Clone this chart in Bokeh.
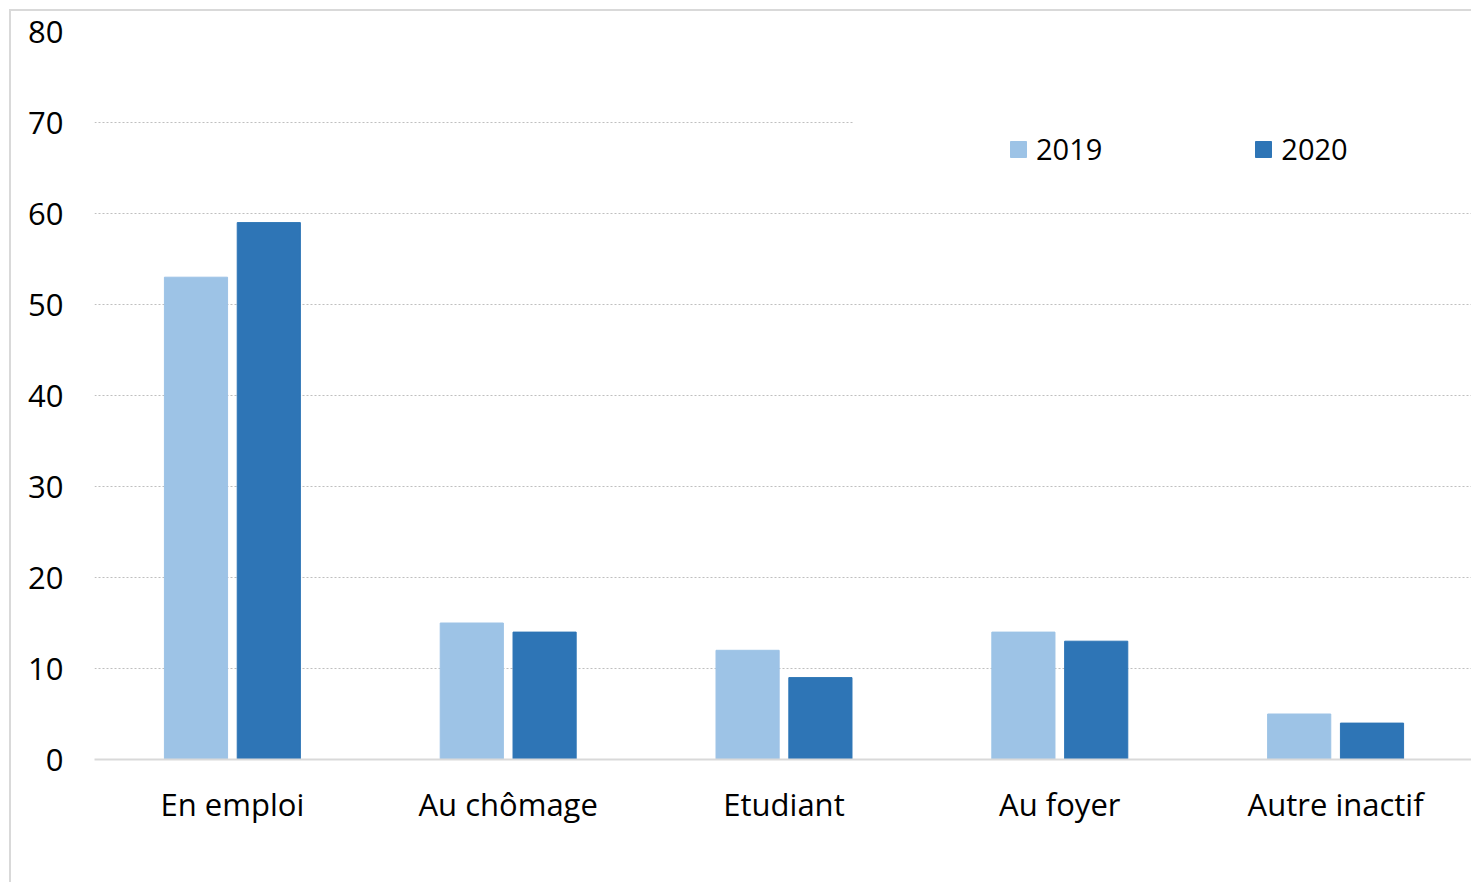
from bokeh.plotting import figure
from bokeh.models import FactorRange, Range1d, FixedTicker, Legend, LegendItem, BoxAnnotation, ColumnDataSource
from bokeh.transform import dodge
from bokeh.embed import file_html
from bokeh.resources import INLINE

categories = ["En emploi", "Au chômage", "Etudiant", "Au foyer", "Autre inactif"]
values_2019 = [53, 15, 12, 14, 5]
values_2020 = [59, 14, 9, 13, 4]
series_names = ["2019", "2020"]
y_ticks = [0, 10, 20, 30, 40, 50, 60, 70, 80]

FONT = "Open Sans"
C2019 = "#9dc3e6"
C2020 = "#2e75b6"

src = ColumnDataSource(dict(cat=categories, v2019=values_2019, v2020=values_2020))

p = figure(
    x_range=FactorRange(*categories), y_range=Range1d(0, 80),
    width=1462, height=873,
    min_border_left=83, min_border_right=0, min_border_top=20, min_border_bottom=125,
    output_backend="svg", toolbar_location=None,
)
p.styles = {"border-left": "2px solid #d9d9d9", "border-top": "2px solid #d9d9d9",
            "margin-left": "9px", "margin-top": "9px"}
p.outline_line_color = None
p.background_fill_color = "white"
p.border_fill_color = "white"

r1 = p.vbar(x=dodge("cat", -0.132, range=p.x_range), top="v2019", width=0.229,
            source=src, fill_color=C2019, line_color=C2019)
r2 = p.vbar(x=dodge("cat", 0.132, range=p.x_range), top="v2020", width=0.229,
            source=src, fill_color=C2020, line_color=C2020)

# grid
p.xgrid.grid_line_color = None
p.ygrid.ticker = FixedTicker(ticks=y_ticks)
p.ygrid.grid_line_color = "#bfbfbf"
p.ygrid.grid_line_dash = "2 2"
p.ygrid.grid_line_width = 1

# y axis
p.yaxis.ticker = FixedTicker(ticks=y_ticks)
p.yaxis.axis_line_color = None
p.yaxis.major_tick_line_color = None
p.yaxis.minor_tick_line_color = None
p.yaxis.major_label_standoff = 25
p.yaxis.major_label_text_font = FONT
p.yaxis.major_label_text_font_size = "31px"
p.yaxis.major_label_text_color = "#000000"

# x axis
p.xaxis.axis_line_color = "#d9d9d9"
p.xaxis.axis_line_width = 2
p.xaxis.major_tick_line_color = None
p.xaxis.minor_tick_line_color = None
p.xaxis.major_label_standoff = 17
p.xaxis.major_label_text_font = FONT
p.xaxis.major_label_text_font_size = "31px"
p.xaxis.major_label_text_color = "#000000"

# white area behind legend (interrupts the 70 gridline)
p.add_layout(BoxAnnotation(left=2.752, right=5, bottom=67, top=73,
                           fill_color="white", fill_alpha=1, line_color=None))

legend = Legend(
    items=[LegendItem(label=series_names[0], renderers=[r1]),
           LegendItem(label=series_names[1], renderers=[r2])],
    orientation="horizontal", location=(914, 591),
    glyph_width=20, glyph_height=20, label_standoff=8, spacing=151,
    padding=20, margin=0,
    label_text_font=FONT, label_text_font_size="29px", label_text_color="#000000",
    background_fill_color="white", background_fill_alpha=1, border_line_color=None,
)
p.add_layout(legend)

open("out.html", "w").write(file_html(p, INLINE))
